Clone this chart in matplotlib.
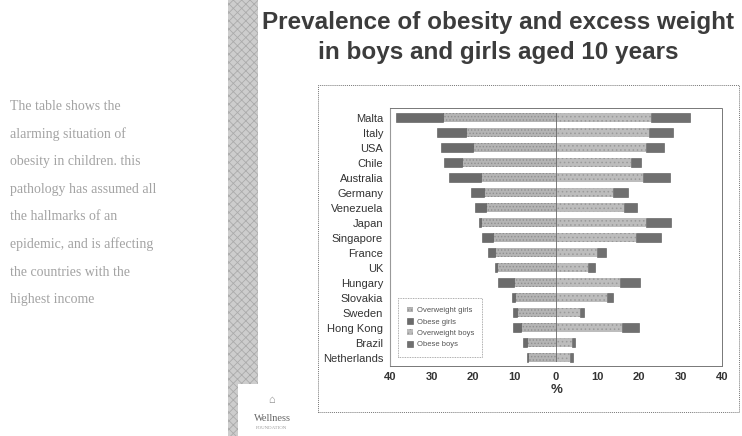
import numpy as np
import matplotlib
matplotlib.use('Agg')
from matplotlib import pyplot as plt
from matplotlib.patches import Rectangle

paises = ['Malta', 'Italy', 'USA', 'Chile', 'Australia', 'Germany', 'Venezuela', 'Japan',
          'Singapore', 'France', 'UK', 'Hungary', 'Slovakia', 'Sweden', 'Hong Kong',
          'Brazil', 'Netherlands']

# valores em %
sobrepeso_meninas = [27.2, 21.7, 20.0, 22.7, 18.0, 17.3, 16.9, 18.0, 15.2, 14.7, 14.2, 10.1, 9.9, 9.4, 8.5, 7.1, 6.7]
obesas_meninas = [11.3, 7.0, 7.7, 4.3, 7.8, 3.2, 2.6, 0.5, 2.6, 1.8, 0.5, 3.9, 0.7, 1.0, 1.9, 0.8, 0.3]
sobrepeso_meninos = [23.0, 22.4, 21.7, 18.0, 21.0, 13.8, 16.4, 21.7, 19.3, 9.9, 7.7, 15.4, 12.3, 5.8, 15.9, 3.8, 3.4]
obesos_meninos = [9.3, 5.8, 4.3, 2.5, 6.5, 3.5, 3.1, 6.0, 6.0, 2.1, 1.7, 4.8, 1.4, 1.0, 4.1, 0.8, 0.8]

ticks = [-40, -30, -20, -10, 0, 10, 20, 30, 40]
rotulos_ticks = ['40', '30', '20', '10', '0', '10', '20', '30', '40']

texto_lateral = ['The table shows the', 'alarming situation of', 'obesity in children. this',
                 'pathology has assumed all', 'the hallmarks of an', 'epidemic, and is affecting',
                 'the countries with the', 'highest income']

plt.rcParams['font.family'] = ['Liberation Sans', 'DejaVu Sans']
plt.rcParams['hatch.linewidth'] = 0.6

fig = plt.figure(figsize=(7.42, 4.36), dpi=100)
fig.patch.set_facecolor('white')

# faixa decorativa cinza
fig.patches.append(Rectangle((228 / 742, 0), 30 / 742, 1, transform=fig.transFigure,
                             facecolor='#cdcdcd', edgecolor='#ababab', hatch='xxxx', lw=0))
fig.patches.append(Rectangle((238 / 742, 0), 68 / 742, 52 / 436, transform=fig.transFigure,
                             facecolor='white', edgecolor='none'))
fig.text(272 / 742, 18 / 436, 'Wellness', family='Liberation Serif', fontsize=7.5,
         color='#666666', ha='center', va='center')
fig.text(272 / 742, 8 / 436, 'FOUNDATION', family='Liberation Serif', fontsize=3.5,
         color='#999999', ha='center', va='center')
fig.text(272 / 742, 36 / 436, '⌂', fontsize=8, color='#888888', ha='center', va='center')

# moldura externa pontilhada
fig.patches.append(Rectangle((318 / 742, 24 / 436), 421 / 742, 327 / 436, transform=fig.transFigure,
                             facecolor='none', edgecolor='#777777', lw=0.7, ls=(0, (1, 1))))

# texto da esquerda
for i, linha in enumerate(texto_lateral):
    fig.text(10 / 742, 1 - (106 + 27.7 * i) / 436, linha, family='Liberation Serif',
             fontsize=10, color='#a3a3a3', ha='left', va='center')

# titulo
fig.text(498 / 742, 1 - 22 / 436, 'Prevalence of obesity and excess weight', fontsize=17.5,
         fontweight='bold', color='#3c3c3c', ha='center', va='center')
fig.text(498 / 742, 1 - 53 / 436, 'in boys and girls aged 10 years', fontsize=17.5,
         fontweight='bold', color='#3c3c3c', ha='center', va='center')

ax = fig.add_axes([390 / 742, 70 / 436, 332 / 742, 258 / 436])
y = np.arange(len(paises))
sg = np.array(sobrepeso_meninas)
og = np.array(obesas_meninas)
sb = np.array(sobrepeso_meninos)
ob = np.array(obesos_meninos)

ax.barh(y, -sg, height=0.62, color='#b4b4b4', edgecolor='#8f8f8f', hatch='.....', lw=0,
        label='Overweight girls')
ax.barh(y, -og, left=-sg, height=0.62, color='#6b6b6b', edgecolor='#555555', lw=0.4,
        label='Obese girls')
ax.barh(y, sb, height=0.62, color='#bdbdbd', edgecolor='#9a9a9a', hatch='....', lw=0,
        label='Overweight boys')
ax.barh(y, ob, left=sb, height=0.62, color='#707070', edgecolor='#555555', lw=0.4,
        label='Obese boys')
ax.axvline(0, color='#666666', lw=0.6, ymin=0.02, ymax=0.98)

ax.set_xlim(-40, 40)
ax.set_ylim(16.55, -0.65)
ax.set_yticks(y)
ax.set_yticklabels(paises, fontsize=8, color='#333333')
ax.set_xticks(ticks)
ax.set_xticklabels(rotulos_ticks, fontsize=8, fontweight='bold', color='#333333')
ax.tick_params(length=0, pad=4)
ax.tick_params(axis='y', pad=5)
fig.text(557 / 742, 1 - 390 / 436, '%', fontsize=9.5, fontweight='bold', color='#333333',
         ha='center', va='center')

for lado in ['top', 'right', 'bottom']:
    ax.spines[lado].set_linestyle((0, (1, 1)))
    ax.spines[lado].set_color('#777777')
    ax.spines[lado].set_linewidth(0.7)
ax.spines['left'].set_color('#999999')
ax.spines['left'].set_linewidth(0.8)

leg = ax.legend(loc='lower left', bbox_to_anchor=(0.02, 0.03), fontsize=5.5, frameon=True,
                handlelength=0.8, handleheight=0.8, borderpad=0.8, labelspacing=0.5,
                handletextpad=0.5)
leg.get_frame().set_linestyle((0, (1, 1)))
leg.get_frame().set_edgecolor('#777777')
leg.get_frame().set_boxstyle('square')
leg.get_frame().set_linewidth(0.6)
for t in leg.get_texts():
    t.set_color('#555555')

plt.savefig('out.png', dpi=100)
